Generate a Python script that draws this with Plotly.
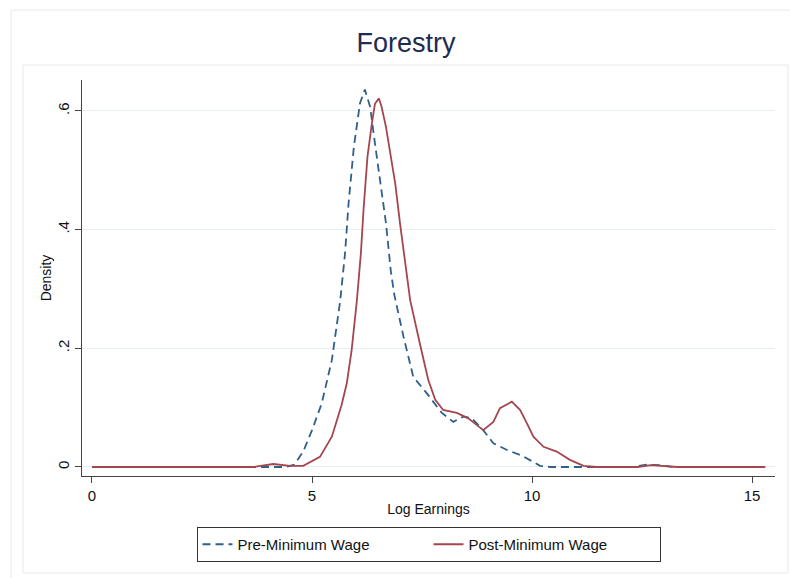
import plotly.graph_objects as go

# Kernel density estimates of log earnings, forestry sector
pre_x = [0, 3.6, 4.4, 4.6, 4.8, 5.0, 5.22, 5.45, 5.64, 5.75, 5.83, 5.95, 6.09, 6.2,
         6.32, 6.43, 6.55, 6.68, 6.79, 6.87, 7.08, 7.3, 7.61, 7.95, 8.21, 8.44, 8.63,
         8.89, 9.12, 9.42, 9.8, 10.18, 10.41, 12.3, 12.6, 12.9, 13.2, 15.3]
pre_y = [0, 0, 0, 0.004, 0.026, 0.062, 0.107, 0.18, 0.28, 0.36, 0.444, 0.539, 0.613, 0.636,
         0.607, 0.545, 0.483, 0.411, 0.33, 0.29, 0.219, 0.152, 0.124, 0.091, 0.076, 0.085, 0.082,
         0.062, 0.04, 0.029, 0.018, 0.002, 0, 0, 0.004, 0.003, 0, 0]

post_x = [0, 3.66, 4.12, 4.5, 4.8, 5.18, 5.45, 5.67, 5.79, 5.9, 6.02, 6.11, 6.17, 6.26,
          6.36, 6.43, 6.52, 6.58, 6.68, 6.77, 6.89, 7.0, 7.1, 7.23, 7.45, 7.64, 7.8, 7.98,
          8.29, 8.55, 8.74, 8.89, 9.12, 9.27, 9.54, 9.73, 9.88, 10.03, 10.26, 10.56, 10.86,
          11.17, 11.47, 12.4, 12.7, 13.0, 13.3, 15.3]
post_y = [0, 0, 0.005, 0.002, 0.002, 0.017, 0.051, 0.104, 0.141, 0.197, 0.281, 0.36, 0.433, 0.523,
          0.579, 0.612, 0.621, 0.607, 0.573, 0.534, 0.478, 0.41, 0.35, 0.281, 0.208, 0.147, 0.113, 0.096,
          0.091, 0.082, 0.071, 0.062, 0.076, 0.099, 0.11, 0.096, 0.074, 0.051, 0.034, 0.026, 0.012,
          0.002, 0, 0, 0.003, 0.002, 0, 0]

x_ticks = [0, 5, 10, 15]
y_ticks = [0, 0.2, 0.4, 0.6]
y_tick_text = ["0", ".2", ".4", ".6"]

FONT = "Liberation Sans, Arial, Helvetica, sans-serif"
FRAME = "#e4eced"

fig = go.Figure()
fig.add_trace(go.Scatter(
    x=pre_x, y=pre_y, mode="lines", name="Pre-Minimum Wage",
    line=dict(color="#2f5f8a", width=1.8, dash="8px,5px"),
))
fig.add_trace(go.Scatter(
    x=post_x, y=post_y, mode="lines", name="Post-Minimum Wage",
    line=dict(color="#a4464e", width=1.8),
))

# plot-area geometry (pixels) used to place frames in paper coordinates
L, R, T, B = 82, 775, 80, 476
W, H = R - L, B - T

def px_x(p):
    return (p - L) / W

def px_y(p):
    return (B - p) / H

fig.update_layout(
    width=790, height=578,
    margin=dict(l=L, r=790 - R, t=T, b=578 - B),
    paper_bgcolor="white", plot_bgcolor="white",
    font=dict(family=FONT, size=14, color="#111111"),
    title=dict(text="Forestry", x=0.514, xanchor="center", y=1 - 43 / 578, yanchor="middle",
               font=dict(family=FONT, size=27, color="#1e2b52")),
    showlegend=True,
    legend=dict(orientation="h", x=0.5, xanchor="center", y=px_y(527), yanchor="top",
                bgcolor="white", bordercolor="#333333", borderwidth=1,
                font=dict(family=FONT, size=15, color="#111111"),
                entrywidth=186, entrywidthmode="pixels", traceorder="normal"),
    xaxis=dict(
        range=[-0.227, 15.52], tickvals=x_ticks, ticks="outside", ticklen=6, tickwidth=1,
        tickcolor="#444444", showline=True, linecolor="#444444", linewidth=1,
        showgrid=False, zeroline=False, tickfont=dict(size=15),
        title=dict(text="Log Earnings", font=dict(size=14), standoff=1),
    ),
    yaxis=dict(
        range=[-0.0152, 0.652], tickvals=y_ticks, ticktext=y_tick_text, tickangle=-90,
        ticks="outside", ticklen=6, tickwidth=1, tickcolor="#444444",
        showline=True, linecolor="#444444", linewidth=1,
        showgrid=True, gridcolor="#e6eff1", gridwidth=1, zeroline=False,
        tickfont=dict(size=15),
        title=dict(text="Density", font=dict(size=14), standoff=0),
    ),
    shapes=[
        dict(type="rect", xref="paper", yref="paper", x0=px_x(11), x1=px_x(805),
             y0=px_y(10), y1=px_y(590), line=dict(color=FRAME, width=1), layer="below"),
        dict(type="rect", xref="paper", yref="paper", x0=px_x(23), x1=px_x(788),
             y0=px_y(65), y1=px_y(573), line=dict(color=FRAME, width=1), layer="below"),
    ],
)

fig.write_html("out.html")
